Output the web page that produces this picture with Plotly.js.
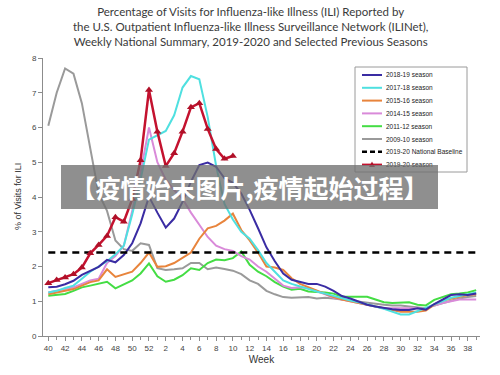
<!DOCTYPE html>
<html>
<head>
<meta charset="utf-8">
<script src="https://cdn.plot.ly/plotly-3.0.1.min.js"></script>
<style>html,body{margin:0;padding:0;background:#fff;}#chart{width:500px;height:375px;}</style>
</head>
<body>
<div id="chart"></div>
<script>
// ---- data ----
const weekLabels = [40,41,42,43,44,45,46,47,48,49,50,51,52,1,2,3,4,5,6,7,8,9,10,11,12,13,14,15,16,17,18,19,20,21,22,23,24,25,26,27,28,29,30,31,32,33,34,35,36,37,38,39];
const seasonNames = ['2018-19 season','2017-18 season','2015-16 season','2014-15 season','2011-12 season','2009-10 season'];
const seasonColors = ['#3a2ca3','#4fe0e0','#e8843c','#d98ad9','#44dd44','#9a9a9a'];
const s2018_19 = [1.40,1.42,1.49,1.59,1.76,1.87,1.99,2.19,2.12,2.33,2.67,3.24,4.01,3.55,3.12,3.38,3.86,4.44,4.92,4.99,4.87,4.54,4.41,4.10,3.63,3.10,2.55,2.15,1.80,1.62,1.55,1.50,1.50,1.42,1.30,1.15,1.08,1.00,0.90,0.85,0.80,0.77,0.75,0.75,0.80,0.76,0.92,1.05,1.18,1.20,1.18,1.22];
const s2017_18 = [1.25,1.30,1.38,1.45,1.65,1.85,2.00,2.15,2.35,2.60,3.50,4.50,5.65,5.78,5.90,6.35,7.15,7.48,7.39,6.30,4.90,3.80,3.35,3.00,2.80,2.47,2.10,1.85,1.60,1.50,1.42,1.35,1.28,1.22,1.15,1.08,1.02,0.97,0.92,0.85,0.78,0.70,0.62,0.62,0.72,0.80,0.90,1.00,1.10,1.15,1.20,1.25];
const s2015_16 = [1.20,1.25,1.30,1.35,1.45,1.55,1.60,1.92,1.70,1.78,1.85,2.10,2.40,1.99,2.01,2.10,2.25,2.40,2.80,3.10,3.17,3.32,3.52,3.05,2.75,2.40,2.00,1.97,1.90,1.66,1.50,1.40,1.30,1.20,1.12,1.05,1.00,0.95,0.90,0.85,0.78,0.75,0.70,0.70,0.70,0.73,0.90,1.02,1.08,1.12,1.18,1.20];
const s2014_15 = [1.25,1.30,1.35,1.40,1.50,1.60,1.65,2.10,2.30,2.60,3.60,4.70,6.00,5.00,4.50,4.20,3.95,3.55,3.20,2.85,2.60,2.50,2.45,2.30,2.20,2.00,1.85,1.65,1.45,1.38,1.40,1.38,1.30,1.20,1.10,1.05,1.00,0.95,0.90,0.85,0.80,0.80,0.80,0.82,0.80,0.78,0.88,0.95,1.00,1.05,1.05,1.05];
const s2011_12 = [1.16,1.18,1.21,1.30,1.40,1.45,1.50,1.56,1.37,1.48,1.60,1.80,2.09,1.72,1.56,1.62,1.75,1.95,1.90,2.10,2.20,2.18,2.24,2.43,2.05,1.85,1.72,1.55,1.42,1.33,1.36,1.28,1.27,1.25,1.22,1.13,1.13,1.13,1.13,1.05,0.97,0.95,0.97,0.97,0.90,0.88,1.04,1.12,1.20,1.22,1.25,1.32];
const s2009_10 = [6.05,7.00,7.70,7.55,6.70,5.38,4.10,3.60,2.75,2.50,2.45,2.67,2.62,1.95,1.90,1.92,1.95,2.10,2.10,1.92,1.97,1.93,1.88,1.78,1.60,1.50,1.30,1.20,1.12,1.10,1.10,1.12,1.08,1.10,1.08,1.05,1.00,0.98,0.95,0.92,0.90,0.88,0.88,0.85,0.82,0.80,0.88,0.95,1.02,1.08,1.12,1.15];
const s2019_20 = [1.52,1.61,1.68,1.78,1.97,2.38,2.62,2.88,3.42,3.29,3.94,5.06,7.08,5.88,4.89,5.26,5.88,6.58,6.70,5.96,5.38,5.10,5.18];
const baselineName = '2019-20 National Baseline';
const baselineValue = 2.4;
const currentName = '2019-20 season';
const currentColor = '#c4122f';
const titleLines = ['Percentage of Visits for Influenza-like Illness (ILI) Reported by','the U.S. Outpatient Influenza-like Illness Surveillance Network (ILINet),','Weekly National Summary, 2019-2020 and Selected Previous Seasons'];
const yTitle = '% of Visits for ILI';
const xTitle = 'Week';
const bannerText = '【疫情始末图片,疫情起始过程】';

// ---- build ----
const xIdx = weekLabels.map((w, i) => i);
const seasonData = [s2018_19, s2017_18, s2015_16, s2014_15, s2011_12, s2009_10];
const traces = [];
for (let k = seasonData.length - 1; k >= 0; k--) {
  traces.push({x: xIdx, y: seasonData[k], type: 'scatter', mode: 'lines', name: seasonNames[k],
    line: {color: seasonColors[k], width: 2}, showlegend: false, hoverinfo: 'skip'});
}
traces.push({x: [xIdx[0], xIdx[xIdx.length - 1]], y: [baselineValue, baselineValue], type: 'scatter', mode: 'lines',
  name: baselineName, line: {color: '#000', width: 2.5, dash: '7px,5px'}, showlegend: false});
traces.push({x: xIdx.slice(0, s2019_20.length), y: s2019_20, type: 'scatter', mode: 'lines+markers', name: currentName,
  line: {color: currentColor, width: 2.5}, marker: {symbol: 'triangle-up', size: 7, color: '#b01028'}, showlegend: false});

const tickVals = xIdx.filter(i => i % 2 === 0 && i <= 50);
const tickText = tickVals.map(i => String(weekLabels[i]));

// plot area geometry in px
const L = 43, R = 480, T = 58, B = 336, W = 500, H = 375;
const px2x = p => (p - L) / (R - L);
const px2y = p => (B - p) / (B - T);

const shapes = [];
const annotations = [];
// title
annotations.push({xref: 'paper', yref: 'paper', x: px2x(250), y: px2y(26), xanchor: 'center', yanchor: 'middle',
  text: titleLines.join('<br>'), showarrow: false, align: 'center',
  font: {family: 'Lato, Liberation Sans', size: 11.5, color: '#3a3a3a'}});
// manual legend
shapes.push({type: 'rect', xref: 'paper', yref: 'paper', x0: px2x(355), x1: px2x(467), y0: px2y(172), y1: px2y(67),
  line: {color: '#9a9a9a', width: 1}, fillcolor: '#fff', layer: 'above'});
const legNames = seasonNames.concat([baselineName, currentName]);
const legColors = seasonColors.concat(['#000', currentColor]);
legNames.forEach((nm, i) => {
  const yy = 75 + i * 12.8;
  const isBase = nm === baselineName;
  shapes.push({type: 'line', xref: 'paper', yref: 'paper', x0: px2x(362), x1: px2x(382), y0: px2y(yy), y1: px2y(yy),
    line: {color: legColors[i], width: isBase ? 2.5 : 2, dash: isBase ? '5px,3px' : 'solid'}, layer: 'above'});
  if (nm === currentName) {
    const cx = 372, cy = yy;
    shapes.push({type: 'path', xref: 'paper', yref: 'paper',
      path: 'M ' + px2x(cx - 3) + ' ' + px2y(cy + 2.5) + ' L ' + px2x(cx + 3) + ' ' + px2y(cy + 2.5) + ' L ' + px2x(cx) + ' ' + px2y(cy - 3) + ' Z',
      fillcolor: '#b01028', line: {width: 0}, layer: 'above'});
  }
  annotations.push({xref: 'paper', yref: 'paper', x: px2x(384), y: px2y(yy), xanchor: 'left', yanchor: 'middle',
    text: nm, showarrow: false, font: {family: 'Liberation Sans, Arial', size: 6.5, color: '#222'}});
});
// y-axis title
annotations.push({xref: 'paper', yref: 'paper', x: px2x(18), y: px2y(197), xanchor: 'center', yanchor: 'middle', textangle: -90,
  text: yTitle, showarrow: false, font: {family: 'Liberation Sans, Arial', size: 9, color: '#333'}});
// banner overlay
annotations.push({xref: 'paper', yref: 'paper', x: px2x(249.5), y: px2y(187), xanchor: 'center', yanchor: 'middle',
  width: 377, height: 44, borderpad: 0, borderwidth: 0, bgcolor: 'rgba(112,112,112,0.78)',
  text: '<b>' + bannerText + '</b>', showarrow: false,
  font: {family: 'Noto Sans CJK SC', size: 25, color: '#fff'}});

const layout = {
  width: W, height: H,
  margin: {l: L, r: W - R, t: T, b: H - B, pad: 0},
  paper_bgcolor: '#fff', plot_bgcolor: '#fff',
  showlegend: false,
  xaxis: {range: [(L - 48.3) / 8.39, (R - 48.3) / 8.39], tickmode: 'array', tickvals: tickVals, ticktext: tickText,
    showgrid: false, zeroline: false, showline: true, linecolor: '#8c8c8c', linewidth: 1,
    ticks: 'outside', ticklen: 4, tickcolor: '#8c8c8c',
    minor: {tickmode: 'linear', tick0: 0, dtick: 1, ticks: 'outside', ticklen: 3, tickcolor: '#8c8c8c', showgrid: false},
    tickfont: {family: 'Liberation Sans, Arial', size: 8, color: '#444'},
    title: {text: xTitle, standoff: 4, font: {family: 'Liberation Sans, Arial', size: 10, color: '#333'}}},
  yaxis: {range: [0, 8], dtick: 1, tick0: 0, showgrid: false, zeroline: false, showline: true, linecolor: '#8c8c8c', linewidth: 1,
    ticks: 'outside', ticklen: 4, tickcolor: '#8c8c8c',
    tickfont: {family: 'Liberation Sans, Arial', size: 8, color: '#444'}},
  shapes: shapes,
  annotations: annotations
};
Plotly.newPlot('chart', traces, layout, {staticPlot: true, displayModeBar: false});
</script>
</body>
</html>
